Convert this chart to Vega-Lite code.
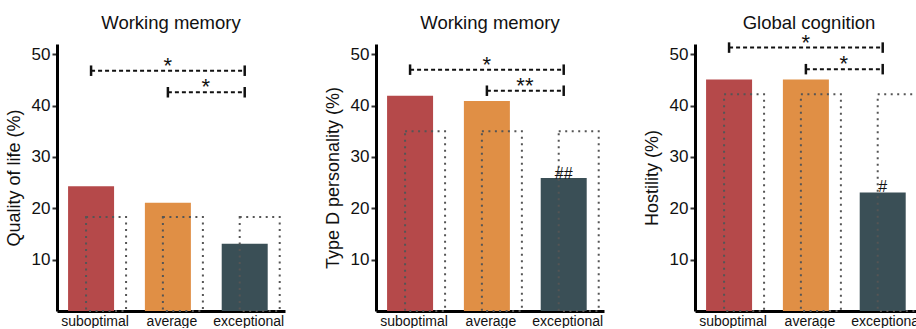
{
  "$schema": "https://vega.github.io/schema/vega-lite/v6.json",
  "padding": {"left": 5, "top": 13, "right": 0, "bottom": 0},
  "background": "white",
  "bounds": "flush",
  "spacing": 91,
  "config": {
    "font": "Liberation Sans",
    "view": {"stroke": null},
    "axis": {"grid": false, "zindex": 1, "domainColor": "#000", "domainWidth": 3, "labelColor": "#111", "titleColor": "#111", "titleFontWeight": "normal"},
    "axisY": {"tickSize": 5, "tickWidth": 2, "tickColor": "#333", "labelFontSize": 17, "labelPadding": 2, "titleFontSize": 18, "titlePadding": 8},
    "axisX": {"ticks": false, "labelFontSize": 14, "labelPadding": 3, "labelAngle": 0, "labelOffset": 4, "title": null},
    "title": {"fontSize": 18.5, "fontWeight": "normal", "color": "#111", "offset": 12, "anchor": "middle"}
  },
  "datasets": {
    "bars": [
      {"panel": "qol", "group": "suboptimal", "value": 24.3, "expected": 18.3, "note": ""},
      {"panel": "qol", "group": "average", "value": 21.1, "expected": 18.3, "note": ""},
      {"panel": "qol", "group": "exceptional", "value": 13.1, "expected": 18.3, "note": ""},
      {"panel": "typed", "group": "suboptimal", "value": 41.9, "expected": 35.0, "note": ""},
      {"panel": "typed", "group": "average", "value": 40.9, "expected": 35.0, "note": ""},
      {"panel": "typed", "group": "exceptional", "value": 25.9, "expected": 35.0, "note": "##"},
      {"panel": "host", "group": "suboptimal", "value": 45.1, "expected": 42.2, "note": ""},
      {"panel": "host", "group": "average", "value": 45.1, "expected": 42.2, "note": ""},
      {"panel": "host", "group": "exceptional", "value": 23.1, "expected": 42.2, "note": "#"}
    ],
    "brackets": [
      {"panel": "qol", "from": "suboptimal", "to": "exceptional", "level": 46.8, "label": "*", "kind": "outer"},
      {"panel": "qol", "from": "average", "to": "exceptional", "level": 42.6, "label": "*", "kind": "inner"},
      {"panel": "typed", "from": "suboptimal", "to": "exceptional", "level": 47.0, "label": "*", "kind": "outer"},
      {"panel": "typed", "from": "average", "to": "exceptional", "level": 42.9, "label": "**", "kind": "inner"},
      {"panel": "host", "from": "suboptimal", "to": "exceptional", "level": 51.3, "label": "*", "kind": "outer"},
      {"panel": "host", "from": "average", "to": "exceptional", "level": 47.1, "label": "*", "kind": "inner"}
    ]
  },
  "hconcat": [
    {
      "width": 228, "height": 267,
      "title": "Working memory",
      "encoding": {
        "x": {"field": "group", "type": "nominal", "sort": null, "scale": {"domain": ["suboptimal", "average", "exceptional"], "paddingInner": 0.4, "paddingOuter": 0.184, "align": 0.39}},
        "y": {"type": "quantitative", "scale": {"domain": [0, 52], "nice": false}}
      },
      "layer": [
        {"data": {"name": "bars"}, "transform": [{"filter": "datum.panel == 'qol'"}],
         "mark": {"type": "bar", "width": 46},
         "encoding": {"y": {"field": "value", "type": "quantitative", "title": "Quality of life (%)", "axis": {"values": [10, 20, 30, 40, 50]}},
           "color": {"field": "group", "type": "nominal", "scale": {"domain": ["suboptimal", "average", "exceptional"], "range": ["#B5494A", "#E08F45", "#3A4F56"]}, "legend": null}}},
        {"data": {"name": "bars"}, "transform": [{"filter": "datum.panel == 'qol'"}],
         "mark": {"type": "bar", "width": 40, "xOffset": 15, "filled": false, "stroke": "#555", "strokeWidth": 2, "strokeDash": [2, 4.5]},
         "encoding": {"y": {"field": "expected", "type": "quantitative"}}},
        {"data": {"name": "bars"}, "transform": [{"filter": "datum.panel == 'qol'"}],
         "mark": {"type": "text", "baseline": "alphabetic", "dy": 1, "fontSize": 16, "color": "#111"},
         "encoding": {"y": {"field": "value", "type": "quantitative"}, "text": {"field": "note"}}},
        {"data": {"name": "brackets"}, "transform": [{"filter": "datum.panel == 'qol'"}],
         "mark": {"type": "rule", "strokeDash": [4, 3], "strokeWidth": 2, "color": "#111"},
         "encoding": {"x": {"field": "from", "type": "nominal", "bandPosition": 0.5}, "x2": {"field": "to"}, "y": {"field": "level", "type": "quantitative"}}},
        {"data": {"name": "brackets"}, "transform": [{"filter": "datum.panel == 'qol'"}],
         "mark": {"type": "point", "shape": "M0,-1L0,1", "size": 110, "filled": false, "strokeWidth": 2.5, "color": "#111", "opacity": 1},
         "encoding": {"x": {"field": "from", "type": "nominal"}, "y": {"field": "level", "type": "quantitative"}}},
        {"data": {"name": "brackets"}, "transform": [{"filter": "datum.panel == 'qol'"}],
         "mark": {"type": "point", "shape": "M0,-1L0,1", "size": 110, "filled": false, "strokeWidth": 2.5, "color": "#111", "opacity": 1},
         "encoding": {"x": {"field": "to", "type": "nominal"}, "y": {"field": "level", "type": "quantitative"}}},
        {"data": {"name": "brackets"}, "transform": [{"filter": "datum.panel == 'qol' && datum.kind == 'outer'"}],
         "mark": {"type": "text", "fontSize": 22, "baseline": "alphabetic", "dy": 2, "color": "#111"},
         "encoding": {"x": {"datum": "average"}, "y": {"field": "level", "type": "quantitative"}, "text": {"field": "label"}}},
        {"data": {"name": "brackets"}, "transform": [{"filter": "datum.panel == 'qol' && datum.kind == 'inner'"}],
         "mark": {"type": "text", "fontSize": 22, "baseline": "alphabetic", "dy": 2, "dx": 38, "color": "#111"},
         "encoding": {"x": {"datum": "average"}, "y": {"field": "level", "type": "quantitative"}, "text": {"field": "label"}}}
      ]
    },
    {
      "width": 228, "height": 267,
      "title": "Working memory",
      "encoding": {
        "x": {"field": "group", "type": "nominal", "sort": null, "scale": {"domain": ["suboptimal", "average", "exceptional"], "paddingInner": 0.4, "paddingOuter": 0.184, "align": 0.39}},
        "y": {"type": "quantitative", "scale": {"domain": [0, 52], "nice": false}}
      },
      "layer": [
        {"data": {"name": "bars"}, "transform": [{"filter": "datum.panel == 'typed'"}],
         "mark": {"type": "bar", "width": 46},
         "encoding": {"y": {"field": "value", "type": "quantitative", "title": "Type D personality (%)", "axis": {"values": [10, 20, 30, 40, 50]}},
           "color": {"field": "group", "type": "nominal", "scale": {"domain": ["suboptimal", "average", "exceptional"], "range": ["#B5494A", "#E08F45", "#3A4F56"]}, "legend": null}}},
        {"data": {"name": "bars"}, "transform": [{"filter": "datum.panel == 'typed'"}],
         "mark": {"type": "bar", "width": 40, "xOffset": 15, "filled": false, "stroke": "#555", "strokeWidth": 2, "strokeDash": [2, 4.5]},
         "encoding": {"y": {"field": "expected", "type": "quantitative"}}},
        {"data": {"name": "bars"}, "transform": [{"filter": "datum.panel == 'typed'"}],
         "mark": {"type": "text", "baseline": "alphabetic", "dy": 1, "fontSize": 16, "color": "#111"},
         "encoding": {"y": {"field": "value", "type": "quantitative"}, "text": {"field": "note"}}},
        {"data": {"name": "brackets"}, "transform": [{"filter": "datum.panel == 'typed'"}],
         "mark": {"type": "rule", "strokeDash": [4, 3], "strokeWidth": 2, "color": "#111"},
         "encoding": {"x": {"field": "from", "type": "nominal", "bandPosition": 0.5}, "x2": {"field": "to"}, "y": {"field": "level", "type": "quantitative"}}},
        {"data": {"name": "brackets"}, "transform": [{"filter": "datum.panel == 'typed'"}],
         "mark": {"type": "point", "shape": "M0,-1L0,1", "size": 110, "filled": false, "strokeWidth": 2.5, "color": "#111", "opacity": 1},
         "encoding": {"x": {"field": "from", "type": "nominal"}, "y": {"field": "level", "type": "quantitative"}}},
        {"data": {"name": "brackets"}, "transform": [{"filter": "datum.panel == 'typed'"}],
         "mark": {"type": "point", "shape": "M0,-1L0,1", "size": 110, "filled": false, "strokeWidth": 2.5, "color": "#111", "opacity": 1},
         "encoding": {"x": {"field": "to", "type": "nominal"}, "y": {"field": "level", "type": "quantitative"}}},
        {"data": {"name": "brackets"}, "transform": [{"filter": "datum.panel == 'typed' && datum.kind == 'outer'"}],
         "mark": {"type": "text", "fontSize": 22, "baseline": "alphabetic", "dy": 2, "color": "#111"},
         "encoding": {"x": {"datum": "average"}, "y": {"field": "level", "type": "quantitative"}, "text": {"field": "label"}}},
        {"data": {"name": "brackets"}, "transform": [{"filter": "datum.panel == 'typed' && datum.kind == 'inner'"}],
         "mark": {"type": "text", "fontSize": 22, "baseline": "alphabetic", "dy": 2, "dx": 38, "color": "#111"},
         "encoding": {"x": {"datum": "average"}, "y": {"field": "level", "type": "quantitative"}, "text": {"field": "label"}}}
      ]
    },
    {
      "width": 228, "height": 267,
      "title": {"text": "Global cognition", "offset": -1},
      "encoding": {
        "x": {"field": "group", "type": "nominal", "sort": null, "scale": {"domain": ["suboptimal", "average", "exceptional"], "paddingInner": 0.4, "paddingOuter": 0.184, "align": 0.39}},
        "y": {"type": "quantitative", "scale": {"domain": [0, 52], "nice": false}}
      },
      "layer": [
        {"data": {"name": "bars"}, "transform": [{"filter": "datum.panel == 'host'"}],
         "mark": {"type": "bar", "width": 46},
         "encoding": {"y": {"field": "value", "type": "quantitative", "title": "Hostility (%)", "axis": {"values": [10, 20, 30, 40, 50]}},
           "color": {"field": "group", "type": "nominal", "scale": {"domain": ["suboptimal", "average", "exceptional"], "range": ["#B5494A", "#E08F45", "#3A4F56"]}, "legend": null}}},
        {"data": {"name": "bars"}, "transform": [{"filter": "datum.panel == 'host'"}],
         "mark": {"type": "bar", "width": 40, "xOffset": 15, "filled": false, "stroke": "#555", "strokeWidth": 2, "strokeDash": [2, 4.5]},
         "encoding": {"y": {"field": "expected", "type": "quantitative"}}},
        {"data": {"name": "bars"}, "transform": [{"filter": "datum.panel == 'host'"}],
         "mark": {"type": "text", "baseline": "alphabetic", "dy": 0, "fontSize": 16, "color": "#111"},
         "encoding": {"y": {"field": "value", "type": "quantitative"}, "text": {"field": "note"}}},
        {"data": {"name": "brackets"}, "transform": [{"filter": "datum.panel == 'host'"}],
         "mark": {"type": "rule", "strokeDash": [4, 3], "strokeWidth": 2, "color": "#111"},
         "encoding": {"x": {"field": "from", "type": "nominal", "bandPosition": 0.5}, "x2": {"field": "to"}, "y": {"field": "level", "type": "quantitative"}}},
        {"data": {"name": "brackets"}, "transform": [{"filter": "datum.panel == 'host'"}],
         "mark": {"type": "point", "shape": "M0,-1L0,1", "size": 110, "filled": false, "strokeWidth": 2.5, "color": "#111", "opacity": 1},
         "encoding": {"x": {"field": "from", "type": "nominal"}, "y": {"field": "level", "type": "quantitative"}}},
        {"data": {"name": "brackets"}, "transform": [{"filter": "datum.panel == 'host'"}],
         "mark": {"type": "point", "shape": "M0,-1L0,1", "size": 110, "filled": false, "strokeWidth": 2.5, "color": "#111", "opacity": 1},
         "encoding": {"x": {"field": "to", "type": "nominal"}, "y": {"field": "level", "type": "quantitative"}}},
        {"data": {"name": "brackets"}, "transform": [{"filter": "datum.panel == 'host' && datum.kind == 'outer'"}],
         "mark": {"type": "text", "fontSize": 22, "baseline": "alphabetic", "dy": 2, "color": "#111"},
         "encoding": {"x": {"datum": "average"}, "y": {"field": "level", "type": "quantitative"}, "text": {"field": "label"}}},
        {"data": {"name": "brackets"}, "transform": [{"filter": "datum.panel == 'host' && datum.kind == 'inner'"}],
         "mark": {"type": "text", "fontSize": 22, "baseline": "alphabetic", "dy": 2, "dx": 38, "color": "#111"},
         "encoding": {"x": {"datum": "average"}, "y": {"field": "level", "type": "quantitative"}, "text": {"field": "label"}}}
      ]
    }
  ]
}
